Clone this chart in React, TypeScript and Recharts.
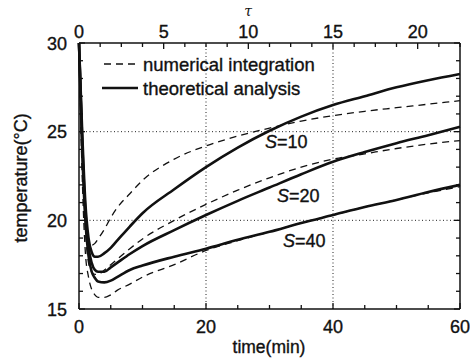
import { LineChart, Line, XAxis, YAxis, ReferenceLine } from 'recharts'

// time (min) sample points shared by every curve
const TIME = [0, 0.5, 1, 1.5, 2, 2.5, 3, 4, 5, 6, 8, 10, 15, 20, 25, 30, 35, 40, 45, 50, 55, 60]

// theoretical analysis (solid)
const THEORY_S10 = [30, 25.0, 21.0, 19.0, 18.2, 17.95, 17.95, 18.15, 18.45, 18.85, 19.65, 20.4, 21.75, 23.0, 24.1, 25.05, 25.85, 26.5, 27.0, 27.5, 27.9, 28.25]
const THEORY_S20 = [30, 24.5, 20.5, 18.5, 17.6, 17.2, 17.1, 17.1, 17.35, 17.6, 18.1, 18.55, 19.45, 20.3, 21.1, 21.85, 22.6, 23.3, 23.85, 24.35, 24.8, 25.28]
const THEORY_S40 = [30, 24.0, 20.0, 18.0, 17.1, 16.75, 16.55, 16.5, 16.6, 16.8, 17.2, 17.45, 17.95, 18.4, 18.9, 19.35, 19.85, 20.3, 20.75, 21.15, 21.6, 22.0]

// numerical integration (dashed)
const NUMERIC_S10 = [30, 24.0, 20.5, 19.0, 18.6, 18.7, 18.95, 19.5, 20.15, 20.7, 21.5, 22.25, 23.45, 24.2, 24.75, 25.2, 25.6, 25.9, 26.15, 26.35, 26.55, 26.75]
const NUMERIC_S20 = [30, 23.5, 19.5, 17.6, 17.1, 16.95, 16.95, 17.2, 17.5, 17.8, 18.4, 18.95, 20.0, 20.9, 21.7, 22.4, 23.0, 23.45, 23.75, 24.05, 24.3, 24.5]
const NUMERIC_S40 = [30, 22.5, 18.2, 16.8, 16.1, 15.8, 15.65, 15.65, 15.8, 16.05, 16.4, 16.8, 17.5, 18.3, 18.85, 19.35, 19.85, 20.3, 20.75, 21.15, 21.55, 21.9]

// axis ticks
const TIME_TICKS = [0, 5, 10, 15, 20, 25, 30, 35, 40, 45, 50, 55, 60]
const TIME_MAJOR = [0, 20, 40, 60]
const TAU_PER_MIN = 0.375
const TAU_TICKS = [0, 1.25, 2.5, 3.75, 5, 6.25, 7.5, 8.75, 10, 11.25, 12.5, 13.75, 15, 16.25, 17.5, 18.75, 20, 21.25, 22.5]
const TAU_MAJOR = [0, 5, 10, 15, 20]
const TEMP_TICKS = [15, 16, 17, 18, 19, 20, 21, 22, 23, 24, 25, 26, 27, 28, 29, 30]
const TEMP_MAJOR = [15, 20, 25, 30]
const GRID_TIME = [20, 40]
const GRID_TEMP = [20, 25]

const data = TIME.map((t, i) => ({
  t,
  th10: THEORY_S10[i],
  th20: THEORY_S20[i],
  th40: THEORY_S40[i],
  nu10: NUMERIC_S10[i],
  nu20: NUMERIC_S20[i],
  nu40: NUMERIC_S40[i],
}))

const FONT = '"Liberation Sans", Arial, sans-serif'
const INK = '#111'
// scanned print looks a bit heavier than plain Arial
const HEAVY = { stroke: INK, strokeWidth: 0.35 }

const BottomTick = ({ x, y, payload }: any) => {
  const major = TIME_MAJOR.includes(payload.value)
  return (
    <g>
      <line x1={x} x2={x} y1={y} y2={y - (major ? 6 : 4)} stroke={INK} strokeWidth={1.3} />
      {major && (
        <text x={x} y={y + 24} textAnchor="middle" fontSize={18} fontFamily={FONT} fill={INK} {...HEAVY}>
          {payload.value}
        </text>
      )}
    </g>
  )
}

const TopTick = ({ x, y, payload }: any) => {
  const tau = Math.round(payload.value * TAU_PER_MIN * 100) / 100
  const major = TAU_MAJOR.includes(tau)
  return (
    <g>
      <line x1={x} x2={x} y1={y} y2={y + (major ? 6 : 4)} stroke={INK} strokeWidth={1.3} />
      {major && (
        <text x={x} y={y - 5} textAnchor="middle" fontSize={18} fontFamily={FONT} fill={INK} {...HEAVY}>
          {tau}
        </text>
      )}
    </g>
  )
}

const LeftTick = ({ x, y, payload }: any) => {
  const major = TEMP_MAJOR.includes(payload.value)
  return (
    <g>
      <line x1={x} x2={x + (major ? 6 : 4)} y1={y} y2={y} stroke={INK} strokeWidth={1.3} />
      {major && (
        <text x={x - 12} y={y + 6.5} textAnchor="end" fontSize={18} fontFamily={FONT} fill={INK} {...HEAVY}>
          {payload.value}
        </text>
      )}
    </g>
  )
}

const RightTick = ({ x, y, payload }: any) => {
  const major = TEMP_MAJOR.includes(payload.value)
  return <line x1={x} x2={x - (major ? 6 : 4)} y1={y} y2={y} stroke={INK} strokeWidth={1.3} />
}

export default function App() {
  return (
    <div style={{ position: 'absolute', left: 0, top: 0, width: 470, height: 361, background: '#fff' }}>
      <LineChart width={470} height={361} data={data} margin={{ top: 20, right: 9, bottom: 20, left: 20 }}>
        <XAxis
          xAxisId="bottom"
          dataKey="t"
          type="number"
          domain={[0, 60]}
          ticks={TIME_TICKS}
          interval={0}
          height={32}
          tickSize={0}
          tickMargin={0}
          tick={(p: any) => <BottomTick {...p} />}
          axisLine={{ stroke: INK, strokeWidth: 1.5 }}
        />
        <XAxis
          xAxisId="top"
          orientation="top"
          dataKey="t"
          type="number"
          domain={[0, 60]}
          ticks={TAU_TICKS.map((v) => v / TAU_PER_MIN)}
          interval={0}
          height={23}
          tickSize={0}
          tickMargin={0}
          tick={(p: any) => <TopTick {...p} />}
          axisLine={{ stroke: INK, strokeWidth: 1.5 }}
        />
        <YAxis
          yAxisId="left"
          type="number"
          domain={[15, 30]}
          ticks={TEMP_TICKS}
          interval={0}
          width={59}
          tickSize={0}
          tickMargin={0}
          tick={(p: any) => <LeftTick {...p} />}
          axisLine={{ stroke: INK, strokeWidth: 1.5 }}
        />
        <YAxis
          yAxisId="right"
          orientation="right"
          type="number"
          domain={[15, 30]}
          ticks={TEMP_TICKS}
          interval={0}
          width={1}
          tickSize={0}
          tickMargin={0}
          tick={(p: any) => <RightTick {...p} />}
          axisLine={{ stroke: INK, strokeWidth: 1.5 }}
        />
        {GRID_TIME.map((v) => (
          <ReferenceLine key={'gx' + v} x={v} xAxisId="bottom" yAxisId="left" stroke="#222" strokeWidth={1} strokeDasharray="1 2.5" />
        ))}
        {GRID_TEMP.map((v) => (
          <ReferenceLine key={'gy' + v} y={v} xAxisId="bottom" yAxisId="left" stroke="#222" strokeWidth={1} strokeDasharray="1 2.5" />
        ))}
        {['nu10', 'nu20', 'nu40'].map((k) => (
          <Line
            key={k}
            xAxisId="top"
            yAxisId="right"
            dataKey={k}
            type="monotone"
            stroke={INK}
            strokeWidth={1.3}
            strokeDasharray="7 5"
            dot={false}
            isAnimationActive={false}
          />
        ))}
        {['th10', 'th20', 'th40'].map((k) => (
          <Line
            key={k}
            xAxisId="bottom"
            yAxisId="left"
            dataKey={k}
            type="monotone"
            stroke={INK}
            strokeWidth={2.6}
            dot={false}
            isAnimationActive={false}
          />
        ))}
      </LineChart>
      <svg width={470} height={361} style={{ position: 'absolute', left: 0, top: 0, pointerEvents: 'none' }}>
        <g fontFamily={FONT} fill={INK} fontSize={18.5} {...HEAVY}>
          <line x1={104} x2={138} y1={64} y2={64} stroke={INK} strokeWidth={1.3} strokeDasharray="7 5" />
          <text x={143} y={71}>numerical integration</text>
          <line x1={102} x2={138} y1={88} y2={88} stroke={INK} strokeWidth={2.6} />
          <text x={143} y={95}>theoretical analysis</text>
          <text x={265} y={148} fontSize={18}><tspan fontStyle="italic">S</tspan>=10</text>
          <text x={277} y={202} fontSize={18}><tspan fontStyle="italic">S</tspan>=20</text>
          <text x={283} y={247} fontSize={18}><tspan fontStyle="italic">S</tspan>=40</text>
          <text x={269} y={353} textAnchor="middle" fontSize={17.5}>time(min)</text>
          <text x={27} y={178} textAnchor="middle" fontSize={18} transform="rotate(-90 27 178)">temperature(°C)</text>
          <text x={248} y={16} textAnchor="middle" fontSize={14} fontStyle="italic" fontFamily='"DejaVu Serif", serif' strokeWidth={0}>τ</text>
        </g>
      </svg>
    </div>
  )
}
